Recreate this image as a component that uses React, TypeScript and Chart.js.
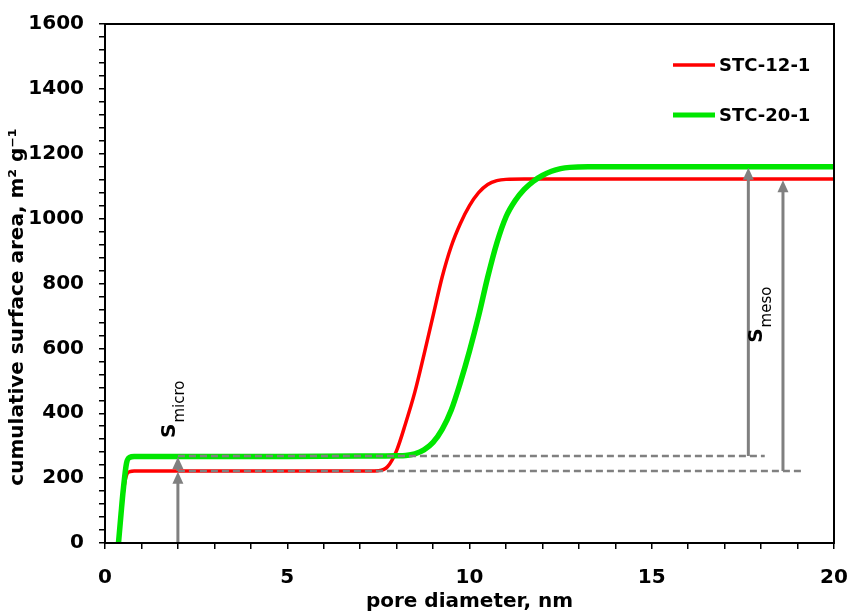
import { useEffect, useRef } from 'react';
import { Chart, registerables } from 'chart.js';

Chart.register(...registerables);

// ---- data ----
const seriesNames = ['STC-12-1', 'STC-20-1'];

const redX = [0.37, 0.45, 0.52, 0.6, 0.68, 0.8, 1, 3, 5, 7, 7.25, 7.5, 7.75, 8.0, 8.25, 8.5, 8.75, 9.0, 9.25, 9.5, 9.75, 10.0, 10.25, 10.5, 10.75, 11.0, 11.5, 15, 20];
const redY = [0, 100, 170, 212, 220, 222, 222, 222, 222, 222, 222, 223, 235, 285, 370, 465, 580, 700, 820, 915, 985, 1040, 1080, 1105, 1117, 1121, 1122, 1122, 1122];

const greenX = [0.37, 0.44, 0.5, 0.59, 0.68, 0.8, 1, 3, 5, 7, 8.0, 8.25, 8.5, 8.75, 9.0, 9.25, 9.5, 9.75, 10.0, 10.25, 10.5, 10.75, 11.0, 11.25, 11.5, 11.75, 12.0, 12.25, 12.5, 12.75, 13.25, 15, 20];
const greenY = [0, 90, 163, 246, 264, 267, 267, 267, 267, 268, 269, 270, 275, 287, 310, 350, 410, 495, 592, 700, 820, 925, 1005, 1055, 1090, 1115, 1133, 1146, 1154, 1158, 1160, 1160, 1160];

// dashed reference levels (S_micro levels)
const dashLevel = [268, 222];
const dashFrom = [2, 2];
const dashTo = [18.1, 19.1];

// arrows: x position, start value, tip value
const arrowX = [2, 2, 17.65, 18.6];
const arrowFrom = [0, 222, 268, 222];
const arrowTo = [220, 265, 1157, 1118];

// annotation labels (main letter, subscript, anchor x, anchor y)
const annoMain = ['S', 'S'];
const annoSub = ['micro', 'meso'];
const annoX = [1.92, 18.02];
const annoY = [324, 617];

const xMin = 0, xMax = 20, xStep = 1, xMajor = 5;
const yMin = 0, yMax = 1600, yStep = 40, yMajor = 200;

const xTitle = 'pore diameter, nm';
const yTitle = 'cumulative surface area, m\u00B2 g\u207B\u00B9';

const RED = '#ff0000';
const GREEN = '#00e600';
const GRAY = '#808080';
const FONT = "'DejaVu Sans', sans-serif";

const toPts = (xs: number[], ys: number[]) => xs.map((v, i) => ({ x: v, y: ys[i] }));

const annotPlugin = {
  id: 'annot',
  afterDatasetsDraw(chart: any) {
    const { ctx, chartArea } = chart;
    const x = chart.scales.x;
    const y = chart.scales.y;
    ctx.save();
    // arrows
    ctx.strokeStyle = GRAY;
    ctx.fillStyle = GRAY;
    ctx.lineWidth = 3;
    const hl = 12, hw = 5.5;
    for (let i = 0; i < arrowX.length; i++) {
      const px = x.getPixelForValue(arrowX[i]);
      const y0 = y.getPixelForValue(arrowFrom[i]);
      const y1 = y.getPixelForValue(arrowTo[i]);
      ctx.beginPath();
      ctx.moveTo(px, y0);
      ctx.lineTo(px, y1 + hl - 1);
      ctx.stroke();
      ctx.beginPath();
      ctx.moveTo(px, y1);
      ctx.lineTo(px - hw, y1 + hl);
      ctx.lineTo(px + hw, y1 + hl);
      ctx.closePath();
      ctx.fill();
    }
    // frame
    ctx.strokeStyle = '#000';
    ctx.lineWidth = 2;
    ctx.strokeRect(chartArea.left, chartArea.top, chartArea.right - chartArea.left, chartArea.bottom - chartArea.top);

    // legend
    const colors = [RED, GREEN];
    const widths = [3.5, 5];
    const legY = [65, 115];
    ctx.font = `bold 18px ${FONT}`;
    ctx.textBaseline = 'middle';
    ctx.textAlign = 'left';
    for (let i = 0; i < seriesNames.length; i++) {
      ctx.strokeStyle = colors[i];
      ctx.lineWidth = widths[i];
      ctx.beginPath();
      ctx.moveTo(673, legY[i]);
      ctx.lineTo(715, legY[i]);
      ctx.stroke();
      ctx.fillStyle = '#000';
      ctx.fillText(seriesNames[i], 719, legY[i] + 1);
    }

    // S labels
    for (let i = 0; i < annoMain.length; i++) {
      const px = x.getPixelForValue(annoX[i]);
      const py = y.getPixelForValue(annoY[i]);
      ctx.save();
      ctx.translate(px, py);
      ctx.rotate(-Math.PI / 2);
      ctx.fillStyle = '#000';
      ctx.textBaseline = 'alphabetic';
      ctx.textAlign = 'left';
      ctx.font = `bold 20px ${FONT}`;
      ctx.fillText(annoMain[i], 0, 0);
      const w = ctx.measureText(annoMain[i]).width;
      ctx.font = `15px ${FONT}`;
      ctx.fillText(annoSub[i], w + 1, 9);
      ctx.restore();
    }

    // y title
    ctx.save();
    ctx.translate(18, 307);
    ctx.rotate(-Math.PI / 2);
    ctx.fillStyle = '#000';
    ctx.font = `bold 20px ${FONT}`;
    ctx.textAlign = 'center';
    ctx.textBaseline = 'middle';
    ctx.fillText(yTitle, 0, 0);
    ctx.restore();

    ctx.restore();
  },
};

export default function App() {
  const ref = useRef<HTMLCanvasElement | null>(null);
  useEffect(() => {
    if (!ref.current) return;
    const chart = new Chart(ref.current, {
      type: 'line',
      data: {
        datasets: [
          {
            label: 'dash-a',
            data: [{ x: dashFrom[0], y: dashLevel[0] }, { x: dashTo[0], y: dashLevel[0] }],
            borderColor: GRAY,
            borderWidth: 2.5,
            borderDash: [7, 4],
            pointRadius: 0,
            order: 0,
          },
          {
            label: 'dash-b',
            data: [{ x: dashFrom[1], y: dashLevel[1] }, { x: dashTo[1], y: dashLevel[1] }],
            borderColor: GRAY,
            borderWidth: 2.5,
            borderDash: [7, 4],
            pointRadius: 0,
            order: 0,
          },
          {
            label: seriesNames[1],
            data: toPts(greenX, greenY),
            borderColor: GREEN,
            borderWidth: 5.5,
            pointRadius: 0,
            cubicInterpolationMode: 'monotone',
            order: 1,
          },
          {
            label: seriesNames[0],
            data: toPts(redX, redY),
            borderColor: RED,
            borderWidth: 3.5,
            pointRadius: 0,
            cubicInterpolationMode: 'monotone',
            order: 2,
          },
        ],
      },
      options: {
        animation: false,
        responsive: false,
        devicePixelRatio: 1,
        layout: { padding: { top: 24, right: 15, bottom: 0, left: 0 } },
        plugins: { legend: { display: false }, tooltip: { enabled: false } },
        scales: {
          x: {
            type: 'linear',
            min: xMin,
            max: xMax,
            afterFit: (s: any) => { s.height = 71; },
            ticks: {
              stepSize: xStep,
              autoSkip: false,
              maxRotation: 0,
              padding: 0,
              color: '#000',
              font: { family: FONT, size: 20, weight: 'bold', lineHeight: 2.9 },
              callback: (v: any) => (Number(v) % xMajor === 0 ? String(v) : ''),
            },
            grid: { drawOnChartArea: false, drawTicks: true, tickLength: 6, color: '#000', lineWidth: 1.5 },
            border: { display: true, color: '#000', width: 2 },
            title: {
              display: true,
              text: xTitle,
              color: '#000',
              font: { family: FONT, size: 20, weight: 'bold' },
              padding: { top: 0, bottom: 0 },
            },
          },
          y: {
            type: 'linear',
            min: yMin,
            max: yMax,
            afterFit: (s: any) => { s.width = 105; },
            ticks: {
              stepSize: yStep,
              autoSkip: false,
              padding: 15,
              color: '#000',
              font: { family: FONT, size: 20, weight: 'bold', lineHeight: 0.9 },
              callback: (v: any) => (Number(v) % yMajor === 0 ? String(v) : ''),
            },
            grid: { drawOnChartArea: false, drawTicks: true, tickLength: 6, color: '#000', lineWidth: 1.5 },
            border: { display: true, color: '#000', width: 2 },
          },
        },
      },
      plugins: [annotPlugin],
    } as any);
    return () => chart.destroy();
  }, []);
  return (
    <div style={{ position: 'fixed', left: 0, top: 0, width: 849, height: 614, background: '#fff' }}>
      <canvas ref={ref} width={849} height={614} />
    </div>
  );
}
